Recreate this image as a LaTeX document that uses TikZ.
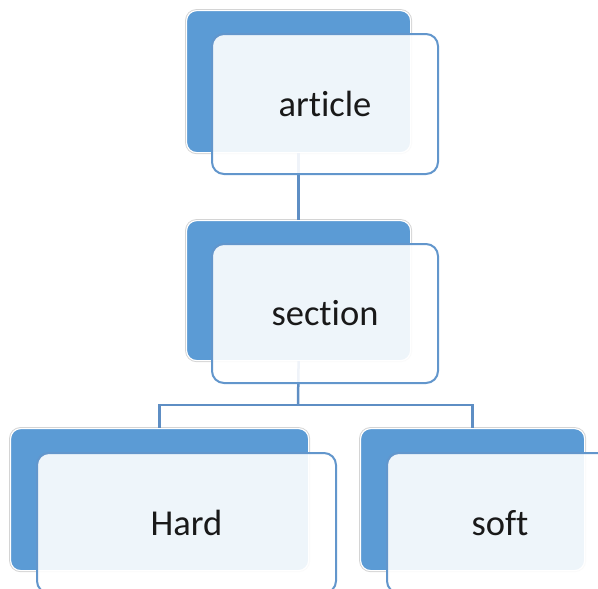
\documentclass[tikz,border=0pt]{standalone}
\usepackage{fontspec}
\setmainfont{Carlito}[Ligatures={NoCommon},RawFeature={-liga}]
\definecolor{accblue}{HTML}{5B9BD5}
\definecolor{edgeblue}{HTML}{6296CC}
\definecolor{linkblue}{HTML}{5E8EC4}
\definecolor{shadegray}{HTML}{D4D4D4}
\begin{document}
\begin{tikzpicture}[x=1pt,y=-1pt,
  backbox/.style={anchor=north west,inner sep=0pt,rounded corners=10pt,fill=accblue,draw=white,line width=1.2pt,
    preaction={draw=shadegray,line width=3pt}},
  frontbox/.style={anchor=north west,inner sep=0pt,rounded corners=12pt,fill=white,fill opacity=0.9,text opacity=1,
    draw=edgeblue,draw opacity=1,line width=2pt,font=\fontsize{36.5}{44}\selectfont,text=black!90},
  link/.style={draw=linkblue,line width=2.5pt}]
\useasboundingbox (0,0) rectangle (598,589);
\clip (0,0) rectangle (598,589);
% back boxes
\node[backbox,minimum width=224pt,minimum height=142pt] (topback) at (186,10) {};
\node[backbox,minimum width=224pt,minimum height=140pt] (midback) at (186,220) {};
\node[backbox,minimum width=298pt,minimum height=142pt] (leftback) at (10,428) {};
\node[backbox,minimum width=224pt,minimum height=142pt] (rightback) at (360,428) {};
% connectors
\coordinate (junction) at (298,405);
\draw[link] (topback.south) -- (midback.north);
\draw[link] (midback.south) -- (junction);
\draw[link] (junction) -| (leftback.north);
\draw[link] (junction) -| (rightback.north);
% front boxes
\node[frontbox,minimum width=226pt,minimum height=140pt] (article) at (211,33) {article};
\node[frontbox,minimum width=226pt,minimum height=139pt] (section) at (211,243) {section};
\node[frontbox,minimum width=299pt,minimum height=140pt] (hard) at (36,452) {Hard};
\node[frontbox,minimum width=226pt,minimum height=140pt] (soft) at (386,452) {soft};
\end{tikzpicture}
\end{document}
